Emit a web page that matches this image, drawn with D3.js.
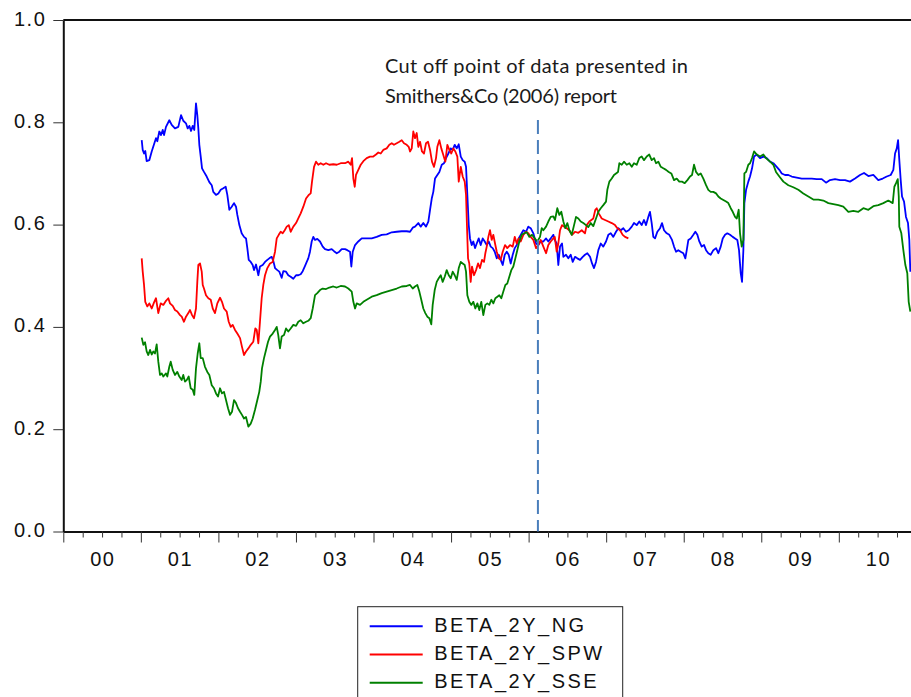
<!DOCTYPE html>
<html>
<head>
<meta charset="utf-8">
<script src="https://cdn.jsdelivr.net/npm/d3@7"></script>
<style>
  body { margin: 0; background: #fff; }
  svg { display: block; }
</style>
</head>
<body>
<svg id="chart" width="911" height="697"></svg>
<script>
// decimal year, beta value
const ngData = [
  [2001.011,0.765],[2001.024,0.746],[2001.041,0.739],[2001.057,0.744],[2001.075,0.724],[2001.109,0.726],[2001.140,0.743],[2001.170,0.757],
  [2001.195,0.769],[2001.212,0.763],[2001.238,0.782],[2001.260,0.775],[2001.282,0.785],[2001.299,0.775],[2001.324,0.791],[2001.367,0.804],
  [2001.398,0.795],[2001.440,0.788],[2001.483,0.791],[2001.518,0.814],[2001.547,0.803],[2001.582,0.798],[2001.604,0.788],[2001.625,0.793],
  [2001.647,0.783],[2001.669,0.793],[2001.689,0.785],[2001.711,0.837],[2001.728,0.814],[2001.741,0.788],[2001.754,0.756],[2001.772,0.733],
  [2001.789,0.710],[2001.814,0.703],[2001.849,0.694],[2001.883,0.683],[2001.914,0.677],[2001.934,0.664],[2001.969,0.658],[2001.999,0.661],
  [2002.030,0.668],[2002.063,0.671],[2002.094,0.674],[2002.115,0.658],[2002.141,0.629],[2002.172,0.635],[2002.201,0.642],[2002.227,0.635],
  [2002.244,0.619],[2002.270,0.599],[2002.300,0.583],[2002.330,0.576],[2002.356,0.573],[2002.373,0.554],[2002.391,0.531],[2002.417,0.527],
  [2002.442,0.521],[2002.459,0.511],[2002.485,0.522],[2002.515,0.501],[2002.536,0.518],[2002.571,0.521],[2002.601,0.527],[2002.631,0.531],
  [2002.656,0.534],[2002.687,0.537],[2002.708,0.529],[2002.730,0.515],[2002.760,0.511],[2002.785,0.508],[2002.816,0.496],[2002.837,0.509],
  [2002.872,0.508],[2002.901,0.501],[2002.932,0.498],[2002.966,0.494],[2003.001,0.501],[2003.030,0.501],[2003.061,0.503],[2003.087,0.509],
  [2003.113,0.518],[2003.139,0.527],[2003.159,0.534],[2003.181,0.547],[2003.203,0.567],[2003.224,0.576],[2003.246,0.570],[2003.275,0.572],
  [2003.310,0.567],[2003.345,0.557],[2003.375,0.552],[2003.417,0.550],[2003.461,0.552],[2003.491,0.548],[2003.526,0.544],[2003.559,0.547],
  [2003.590,0.552],[2003.633,0.552],[2003.662,0.550],[2003.697,0.547],[2003.714,0.518],[2003.732,0.547],[2003.762,0.560],[2003.804,0.567],
  [2003.848,0.573],[2003.912,0.573],[2003.977,0.573],[2004.041,0.576],[2004.106,0.580],[2004.170,0.581],[2004.235,0.585],[2004.299,0.586],
  [2004.364,0.587],[2004.428,0.587],[2004.471,0.586],[2004.506,0.594],[2004.535,0.596],[2004.578,0.603],[2004.609,0.596],[2004.642,0.603],
  [2004.677,0.596],[2004.707,0.606],[2004.729,0.629],[2004.751,0.651],[2004.771,0.664],[2004.793,0.690],[2004.823,0.697],[2004.849,0.703],
  [2004.880,0.717],[2004.909,0.720],[2004.935,0.730],[2004.965,0.739],[2004.996,0.749],[2005.021,0.746],[2005.047,0.756],[2005.073,0.749],
  [2005.099,0.757],[2005.125,0.733],[2005.150,0.726],[2005.176,0.723],[2005.193,0.713],[2005.210,0.658],[2005.228,0.599],[2005.244,0.573],
  [2005.266,0.560],[2005.287,0.567],[2005.309,0.554],[2005.331,0.563],[2005.357,0.573],[2005.382,0.560],[2005.408,0.573],[2005.434,0.567],
  [2005.460,0.560],[2005.486,0.567],[2005.511,0.557],[2005.537,0.554],[2005.563,0.547],[2005.589,0.534],[2005.615,0.541],[2005.640,0.531],
  [2005.666,0.521],[2005.692,0.541],[2005.718,0.547],[2005.743,0.541],[2005.769,0.524],[2005.795,0.541],[2005.821,0.554],[2005.847,0.560],
  [2005.872,0.573],[2005.898,0.580],[2005.932,0.589],[2005.967,0.586],[2005.996,0.596],[2006.027,0.593],[2006.061,0.583],[2006.096,0.563],
  [2006.125,0.560],[2006.156,0.567],[2006.190,0.567],[2006.225,0.573],[2006.254,0.567],[2006.285,0.573],[2006.319,0.580],[2006.337,0.570],
  [2006.362,0.563],[2006.383,0.521],[2006.405,0.557],[2006.431,0.563],[2006.448,0.537],[2006.482,0.541],[2006.512,0.534],[2006.543,0.541],
  [2006.569,0.527],[2006.598,0.537],[2006.628,0.534],[2006.663,0.531],[2006.698,0.537],[2006.727,0.541],[2006.757,0.544],[2006.792,0.537],
  [2006.818,0.524],[2006.843,0.515],[2006.869,0.527],[2006.899,0.550],[2006.930,0.563],[2006.963,0.557],[2006.998,0.567],[2007.028,0.580],
  [2007.059,0.583],[2007.092,0.576],[2007.127,0.586],[2007.157,0.593],[2007.188,0.589],[2007.221,0.593],[2007.256,0.586],[2007.291,0.589],
  [2007.330,0.596],[2007.359,0.603],[2007.394,0.599],[2007.427,0.606],[2007.458,0.599],[2007.488,0.609],[2007.514,0.599],[2007.543,0.615],
  [2007.565,0.625],[2007.587,0.603],[2007.608,0.576],[2007.630,0.573],[2007.660,0.586],[2007.695,0.593],[2007.720,0.603],[2007.746,0.589],
  [2007.781,0.583],[2007.814,0.580],[2007.849,0.570],[2007.875,0.557],[2007.901,0.547],[2007.930,0.550],[2007.961,0.547],[2007.995,0.544],
  [2008.021,0.534],[2008.039,0.550],[2008.060,0.570],[2008.090,0.573],[2008.124,0.580],[2008.150,0.586],[2008.176,0.580],[2008.201,0.567],
  [2008.232,0.557],[2008.262,0.560],[2008.288,0.550],[2008.317,0.544],[2008.348,0.541],[2008.382,0.550],[2008.417,0.554],[2008.446,0.544],
  [2008.477,0.557],[2008.503,0.573],[2008.533,0.580],[2008.562,0.583],[2008.597,0.580],[2008.632,0.576],[2008.662,0.573],[2008.691,0.570],
  [2008.713,0.550],[2008.735,0.505],[2008.752,0.488],[2008.769,0.550],[2008.782,0.642],[2008.804,0.668],[2008.833,0.684],[2008.855,0.694],
  [2008.881,0.710],[2008.907,0.733],[2008.942,0.737],[2008.984,0.730],[2009.027,0.733],[2009.070,0.730],[2009.113,0.723],[2009.156,0.720],
  [2009.199,0.713],[2009.233,0.707],[2009.264,0.700],[2009.306,0.697],[2009.349,0.697],[2009.393,0.694],[2009.457,0.692],[2009.522,0.690],
  [2009.586,0.690],[2009.651,0.690],[2009.715,0.689],[2009.780,0.689],[2009.835,0.682],[2009.886,0.687],[2009.951,0.689],[2010.016,0.687],
  [2010.080,0.687],[2010.144,0.684],[2010.209,0.690],[2010.273,0.697],[2010.325,0.701],[2010.381,0.695],[2010.445,0.697],[2010.509,0.687],
  [2010.566,0.690],[2010.618,0.694],[2010.669,0.697],[2010.703,0.707],[2010.725,0.739],[2010.747,0.749],[2010.764,0.765],[2010.780,0.726],
  [2010.798,0.687],[2010.815,0.655],[2010.841,0.645],[2010.866,0.615],[2010.892,0.603],[2010.909,0.570],[2010.922,0.508]
];

const spwData = [
  [2001.011,0.534],[2001.024,0.508],[2001.041,0.482],[2001.057,0.449],[2001.083,0.440],[2001.109,0.446],[2001.140,0.436],[2001.170,0.448],
  [2001.195,0.456],[2001.225,0.427],[2001.256,0.446],[2001.290,0.443],[2001.324,0.451],[2001.354,0.456],[2001.376,0.446],[2001.411,0.441],
  [2001.440,0.433],[2001.470,0.430],[2001.505,0.423],[2001.527,0.420],[2001.556,0.410],[2001.582,0.420],[2001.612,0.427],[2001.634,0.433],
  [2001.660,0.423],[2001.685,0.417],[2001.711,0.436],[2001.728,0.488],[2001.741,0.521],[2001.763,0.524],[2001.785,0.508],[2001.798,0.482],
  [2001.814,0.475],[2001.840,0.462],[2001.870,0.456],[2001.901,0.453],[2001.927,0.436],[2001.956,0.427],[2001.986,0.446],[2002.021,0.457],
  [2002.046,0.449],[2002.072,0.436],[2002.107,0.430],[2002.133,0.410],[2002.159,0.400],[2002.184,0.404],[2002.214,0.394],[2002.244,0.387],
  [2002.279,0.378],[2002.304,0.361],[2002.330,0.345],[2002.356,0.352],[2002.386,0.358],[2002.417,0.365],[2002.450,0.371],[2002.476,0.397],
  [2002.494,0.394],[2002.515,0.368],[2002.536,0.410],[2002.558,0.456],[2002.579,0.482],[2002.601,0.501],[2002.631,0.515],[2002.665,0.524],
  [2002.700,0.527],[2002.730,0.547],[2002.752,0.573],[2002.778,0.580],[2002.803,0.586],[2002.829,0.583],[2002.855,0.589],[2002.881,0.596],
  [2002.907,0.599],[2002.932,0.586],[2002.966,0.596],[2003.001,0.603],[2003.030,0.612],[2003.061,0.622],[2003.095,0.635],[2003.130,0.651],
  [2003.164,0.658],[2003.190,0.661],[2003.207,0.684],[2003.233,0.713],[2003.259,0.723],[2003.288,0.717],[2003.319,0.720],[2003.353,0.717],
  [2003.388,0.720],[2003.430,0.717],[2003.482,0.718],[2003.526,0.717],[2003.577,0.720],[2003.633,0.720],[2003.675,0.723],[2003.706,0.717],
  [2003.723,0.730],[2003.740,0.690],[2003.758,0.674],[2003.774,0.697],[2003.804,0.707],[2003.835,0.717],[2003.869,0.724],[2003.912,0.730],
  [2003.955,0.733],[2003.997,0.733],[2004.032,0.737],[2004.062,0.741],[2004.093,0.739],[2004.126,0.746],[2004.170,0.749],[2004.204,0.756],
  [2004.235,0.759],[2004.264,0.756],[2004.299,0.759],[2004.333,0.762],[2004.364,0.765],[2004.393,0.759],[2004.428,0.756],[2004.454,0.752],
  [2004.471,0.743],[2004.493,0.749],[2004.513,0.782],[2004.535,0.769],[2004.557,0.779],[2004.578,0.752],[2004.600,0.762],[2004.625,0.743],
  [2004.651,0.739],[2004.677,0.759],[2004.703,0.762],[2004.729,0.746],[2004.754,0.723],[2004.780,0.713],[2004.806,0.730],[2004.823,0.752],
  [2004.849,0.765],[2004.874,0.749],[2004.900,0.736],[2004.926,0.723],[2004.952,0.756],[2004.978,0.746],[2005.003,0.739],[2005.029,0.749],
  [2005.055,0.743],[2005.081,0.733],[2005.099,0.684],[2005.125,0.713],[2005.150,0.694],[2005.176,0.684],[2005.193,0.658],[2005.206,0.593],
  [2005.219,0.534],[2005.235,0.524],[2005.253,0.488],[2005.270,0.518],[2005.296,0.501],[2005.322,0.511],[2005.348,0.524],[2005.373,0.515],
  [2005.399,0.531],[2005.425,0.527],[2005.442,0.544],[2005.460,0.557],[2005.481,0.576],[2005.502,0.589],[2005.524,0.570],[2005.545,0.580],
  [2005.567,0.563],[2005.589,0.547],[2005.615,0.534],[2005.640,0.531],[2005.666,0.547],[2005.696,0.560],[2005.725,0.554],[2005.760,0.560],
  [2005.795,0.557],[2005.821,0.576],[2005.847,0.563],[2005.872,0.573],[2005.898,0.567],[2005.932,0.580],[2005.967,0.586],[2005.996,0.583],
  [2006.027,0.576],[2006.061,0.570],[2006.096,0.554],[2006.125,0.560],[2006.156,0.570],[2006.190,0.557],[2006.225,0.544],[2006.254,0.560],
  [2006.285,0.567],[2006.319,0.573],[2006.337,0.576],[2006.362,0.547],[2006.383,0.563],[2006.405,0.589],[2006.431,0.599],[2006.457,0.596],
  [2006.491,0.593],[2006.525,0.589],[2006.560,0.580],[2006.598,0.586],[2006.641,0.584],[2006.685,0.589],[2006.727,0.583],[2006.749,0.599],
  [2006.783,0.606],[2006.809,0.609],[2006.834,0.612],[2006.860,0.629],[2006.878,0.632],[2006.904,0.622],[2006.943,0.612],[2006.985,0.609],
  [2007.028,0.606],[2007.072,0.603],[2007.114,0.599],[2007.144,0.593],[2007.179,0.589],[2007.213,0.580],[2007.243,0.576],[2007.286,0.573]
];

const sseData = [
  [2001.011,0.379],[2001.032,0.365],[2001.054,0.370],[2001.075,0.352],[2001.096,0.345],[2001.118,0.355],[2001.140,0.346],[2001.161,0.352],
  [2001.182,0.348],[2001.204,0.366],[2001.225,0.332],[2001.247,0.306],[2001.269,0.309],[2001.290,0.303],[2001.324,0.309],[2001.341,0.303],
  [2001.367,0.322],[2001.385,0.332],[2001.411,0.316],[2001.440,0.306],[2001.470,0.312],[2001.496,0.303],[2001.527,0.296],[2001.547,0.306],
  [2001.569,0.293],[2001.591,0.296],[2001.617,0.303],[2001.643,0.280],[2001.669,0.277],[2001.689,0.267],[2001.711,0.319],[2001.733,0.348],
  [2001.754,0.368],[2001.772,0.339],[2001.798,0.339],[2001.827,0.322],[2001.857,0.312],[2001.883,0.306],[2001.914,0.286],[2001.943,0.280],
  [2001.969,0.270],[2001.995,0.264],[2002.021,0.280],[2002.046,0.270],[2002.072,0.273],[2002.098,0.257],[2002.124,0.241],[2002.150,0.228],
  [2002.175,0.234],[2002.201,0.257],[2002.227,0.251],[2002.253,0.241],[2002.279,0.234],[2002.304,0.228],[2002.330,0.221],[2002.356,0.224],
  [2002.386,0.205],[2002.417,0.211],[2002.442,0.221],[2002.472,0.238],[2002.502,0.257],[2002.527,0.273],[2002.546,0.293],[2002.562,0.319],
  [2002.588,0.339],[2002.614,0.355],[2002.640,0.371],[2002.665,0.381],[2002.700,0.387],[2002.730,0.394],[2002.752,0.400],[2002.772,0.384],
  [2002.794,0.358],[2002.816,0.381],[2002.846,0.384],[2002.872,0.397],[2002.901,0.391],[2002.932,0.397],[2002.966,0.404],[2003.001,0.402],
  [2003.030,0.410],[2003.061,0.413],[2003.095,0.407],[2003.130,0.410],[2003.159,0.412],[2003.190,0.417],[2003.216,0.436],[2003.246,0.462],
  [2003.275,0.466],[2003.310,0.472],[2003.345,0.475],[2003.388,0.474],[2003.430,0.477],[2003.482,0.479],[2003.526,0.477],[2003.577,0.480],
  [2003.633,0.479],[2003.675,0.475],[2003.719,0.469],[2003.740,0.449],[2003.762,0.436],[2003.783,0.446],[2003.826,0.443],[2003.869,0.449],
  [2003.912,0.453],[2003.977,0.459],[2004.041,0.462],[2004.106,0.466],[2004.170,0.469],[2004.235,0.472],[2004.299,0.475],[2004.364,0.479],
  [2004.428,0.480],[2004.471,0.482],[2004.506,0.475],[2004.535,0.479],[2004.565,0.482],[2004.591,0.469],[2004.616,0.453],[2004.642,0.436],
  [2004.668,0.427],[2004.694,0.420],[2004.720,0.417],[2004.745,0.405],[2004.763,0.443],[2004.789,0.472],[2004.815,0.488],[2004.841,0.495],
  [2004.867,0.501],[2004.892,0.488],[2004.918,0.498],[2004.944,0.511],[2004.970,0.501],[2004.996,0.495],[2005.021,0.508],[2005.047,0.501],
  [2005.073,0.492],[2005.099,0.515],[2005.125,0.527],[2005.150,0.524],[2005.176,0.521],[2005.193,0.508],[2005.210,0.462],[2005.235,0.449],
  [2005.261,0.443],[2005.287,0.449],[2005.313,0.436],[2005.339,0.446],[2005.364,0.433],[2005.390,0.449],[2005.416,0.423],[2005.442,0.443],
  [2005.468,0.446],[2005.493,0.443],[2005.519,0.453],[2005.545,0.446],[2005.571,0.456],[2005.597,0.459],[2005.622,0.462],[2005.648,0.456],
  [2005.674,0.469],[2005.700,0.482],[2005.725,0.485],[2005.751,0.498],[2005.777,0.511],[2005.803,0.518],[2005.829,0.534],[2005.854,0.550],
  [2005.880,0.567],[2005.911,0.580],[2005.941,0.583],[2005.976,0.585],[2006.009,0.576],[2006.044,0.580],[2006.079,0.573],[2006.112,0.567],
  [2006.147,0.576],[2006.169,0.593],[2006.190,0.589],[2006.225,0.596],[2006.254,0.606],[2006.285,0.615],[2006.319,0.616],[2006.340,0.609],
  [2006.370,0.632],[2006.396,0.619],[2006.422,0.625],[2006.448,0.606],[2006.473,0.593],[2006.499,0.603],[2006.525,0.589],[2006.556,0.580],
  [2006.586,0.599],[2006.611,0.615],[2006.641,0.612],[2006.672,0.606],[2006.705,0.603],[2006.740,0.599],[2006.770,0.595],[2006.801,0.603],
  [2006.834,0.597],[2006.869,0.612],[2006.899,0.625],[2006.930,0.632],[2006.963,0.638],[2006.998,0.645],[2007.015,0.668],[2007.041,0.684],
  [2007.072,0.690],[2007.101,0.697],[2007.127,0.700],[2007.153,0.703],[2007.170,0.720],[2007.201,0.717],[2007.230,0.723],[2007.265,0.717],
  [2007.299,0.720],[2007.330,0.713],[2007.359,0.720],[2007.394,0.717],[2007.427,0.730],[2007.458,0.733],[2007.488,0.726],[2007.523,0.733],
  [2007.556,0.737],[2007.587,0.726],[2007.617,0.730],[2007.643,0.720],[2007.673,0.723],[2007.704,0.713],[2007.737,0.710],[2007.772,0.707],
  [2007.807,0.703],[2007.840,0.700],[2007.875,0.687],[2007.910,0.690],[2007.943,0.684],[2007.978,0.684],[2008.013,0.681],[2008.047,0.687],
  [2008.081,0.694],[2008.107,0.697],[2008.133,0.717],[2008.159,0.703],[2008.189,0.697],[2008.219,0.700],[2008.253,0.690],[2008.288,0.677],
  [2008.317,0.668],[2008.348,0.664],[2008.382,0.664],[2008.417,0.661],[2008.446,0.655],[2008.477,0.651],[2008.511,0.648],[2008.546,0.645],
  [2008.575,0.642],[2008.606,0.632],[2008.632,0.625],[2008.662,0.615],[2008.684,0.612],[2008.709,0.629],[2008.726,0.583],[2008.748,0.557],
  [2008.769,0.570],[2008.782,0.700],[2008.804,0.703],[2008.833,0.717],[2008.855,0.720],[2008.881,0.730],[2008.907,0.743],[2008.942,0.737],
  [2008.984,0.733],[2009.027,0.737],[2009.061,0.730],[2009.113,0.723],[2009.156,0.717],[2009.190,0.703],[2009.233,0.694],[2009.285,0.684],
  [2009.349,0.677],[2009.413,0.673],[2009.478,0.668],[2009.542,0.661],[2009.607,0.655],[2009.671,0.649],[2009.736,0.649],[2009.800,0.647],
  [2009.865,0.642],[2009.929,0.640],[2009.994,0.638],[2010.058,0.635],[2010.123,0.625],[2010.187,0.627],[2010.252,0.625],[2010.316,0.632],
  [2010.381,0.629],[2010.445,0.636],[2010.509,0.638],[2010.574,0.642],[2010.638,0.647],[2010.695,0.642],[2010.716,0.674],[2010.738,0.681],
  [2010.760,0.689],[2010.773,0.655],[2010.780,0.596],[2010.806,0.583],[2010.832,0.550],[2010.858,0.521],[2010.883,0.505],[2010.901,0.449],
  [2010.922,0.430]
];

const seriesNames = ['BETA_2Y_NG', 'BETA_2Y_SPW', 'BETA_2Y_SSE'];
const seriesColors = ['#0000ff', '#ff0000', '#008000'];
const yearLabels = ['00', '01', '02', '03', '04', '05', '06', '07', '08', '09', '10'];
const yTicks = [0, 0.2, 0.4, 0.6, 0.8, 1.0];
const cutOffYear = 2006.12;
const noteLines = ['Cut off point of data presented in', 'Smithers&Co (2006) report'];

const svg = d3.select('#chart');
const plotLeft = 63.3, plotTop = 20, plotBottom = 531.5, plotRight = 912.5;

const x = d3.scaleLinear().domain([2000, 2010.95]).range([plotLeft, plotRight]);
const y = d3.scaleLinear().domain([0, 1]).range([plotBottom, plotTop]);

// frame top line
svg.append('line')
  .attr('x1', plotLeft).attr('x2', plotRight)
  .attr('y1', plotTop).attr('y2', plotTop)
  .attr('stroke', '#111').attr('stroke-width', 2);

// quarter ticks on x axis
const quarters = d3.range(2000, 2010.95, 0.25);
const xAxis = svg.append('g')
  .attr('transform', `translate(0,${plotBottom})`)
  .call(d3.axisBottom(x).tickValues(quarters).tickSize(7).tickSizeOuter(0).tickFormat(''));
xAxis.selectAll('.tick line')
  .attr('stroke', '#333')
  .attr('y2', d => Math.abs(d - Math.round(d)) < 1e-6 ? 11 : 6);
xAxis.select('.domain').attr('stroke', '#111').attr('stroke-width', 2);

// year labels centred in each year
svg.append('g').selectAll('text')
  .data(yearLabels)
  .enter()
  .append('text')
  .attr('x', (d, i) => x(2000 + i + 0.5) + 0.8)
  .attr('y', 566)
  .attr('text-anchor', 'middle')
  .style('font-family', '"Liberation Sans", Arial, sans-serif')
  .style('font-size', '20px')
  .style('letter-spacing', '1.5px')
  .attr('fill', '#111')
  .text(d => d);

// y axis
const yAxis = svg.append('g')
  .attr('transform', `translate(${plotLeft},0)`)
  .call(d3.axisLeft(y).tickValues(yTicks).tickSize(10).tickSizeOuter(0).tickFormat(d3.format('.1f')));
yAxis.select('.domain').attr('stroke', '#111').attr('stroke-width', 2);
yAxis.selectAll('.tick line').attr('stroke', '#333');
yAxis.selectAll('.tick text')
  .attr('x', -17)
  .attr('dy', '0.25em')
  .attr('fill', '#111')
  .style('font-family', '"Liberation Sans", Arial, sans-serif')
  .style('font-size', '20px')
  .style('letter-spacing', '1.5px');

// series lines
const line = d3.line()
  .x(d => x(d[0]))
  .y(d => y(d[1]));

[ngData, spwData, sseData].forEach((data, i) => {
  svg.append('path')
    .datum(data)
    .attr('fill', 'none')
    .attr('stroke', seriesColors[i])
    .attr('stroke-width', 1.8)
    .attr('stroke-linejoin', 'round')
    .attr('d', line);
});

// cut off marker
svg.append('line')
  .attr('x1', x(cutOffYear)).attr('x2', x(cutOffYear))
  .attr('y1', 120).attr('y2', plotBottom)
  .attr('stroke', '#4a7ebb')
  .attr('stroke-width', 2)
  .attr('stroke-dasharray', '14,6');

const note = svg.append('g')
  .style('font-family', 'Lato, "Open Sans", sans-serif')
  .style('font-size', '20px')
  .attr('fill', '#1a1a1a');
note.append('text').attr('x', 385).attr('y', 73).attr('textLength', 303).attr('lengthAdjust', 'spacing').text(noteLines[0]);
note.append('text').attr('x', 385).attr('y', 103).attr('textLength', 232).attr('lengthAdjust', 'spacing').text(noteLines[1]);

// legend
const legend = svg.append('g').attr('transform', 'translate(357.7,606.7)');
legend.append('rect')
  .attr('width', 265).attr('height', 100)
  .attr('fill', '#fff').attr('stroke', '#222').attr('stroke-width', 1);

seriesNames.forEach((name, i) => {
  const ly = 19.5 + i * 28.3;
  legend.append('line')
    .attr('x1', 12).attr('x2', 65)
    .attr('y1', ly).attr('y2', ly)
    .attr('stroke', seriesColors[i])
    .attr('stroke-width', 2);
  legend.append('text')
    .attr('x', 76.5)
    .attr('y', ly + 5.7)
    .style('font-family', '"Liberation Sans", Arial, sans-serif')
    .style('font-size', '20px')
    .style('letter-spacing', '2.5px')
    .attr('fill', '#111')
    .text(name);
});
</script>
</body>
</html>
